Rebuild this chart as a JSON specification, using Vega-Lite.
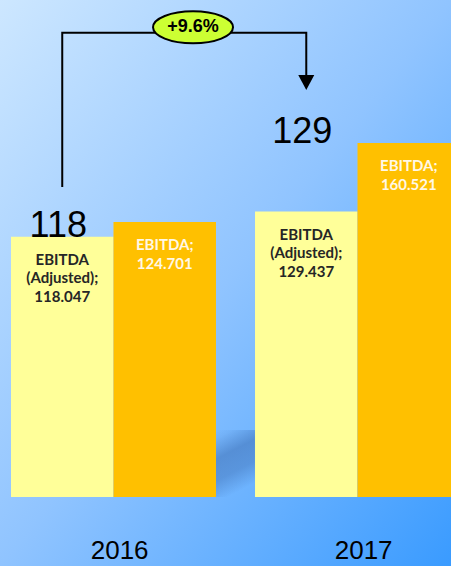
{
  "$schema": "https://vega.github.io/schema/vega-lite/v6.json",
  "width": 451,
  "height": 566,
  "padding": 0,
  "autosize": "none",
  "config": {"view": {"stroke": null}},
  "datasets": {
    "bars": [
      {"year": "2016", "series": "EBITDA (Adjusted)", "value": 118.047, "label": "EBITDA\n(Adjusted);\n118.047"},
      {"year": "2016", "series": "EBITDA", "value": 124.701, "label": "EBITDA;\n124.701"},
      {"year": "2017", "series": "EBITDA (Adjusted)", "value": 129.437, "label": "EBITDA\n(Adjusted);\n129.437"},
      {"year": "2017", "series": "EBITDA", "value": 160.521, "label": "EBITDA;\n160.521"}
    ],
    "big": [
      {"year": "2016", "series": "EBITDA (Adjusted)", "level": 118.047, "big": "118"},
      {"year": "2017", "series": "EBITDA (Adjusted)", "level": 160.521, "big": "129"}
    ],
    "connector": [
      {"year": "2016", "series": "EBITDA (Adjusted)", "level": 140.6, "step": 1},
      {"year": "2016", "series": "EBITDA (Adjusted)", "level": 210.6, "step": 2},
      {"year": "2017", "series": "EBITDA (Adjusted)", "level": 210.6, "step": 3},
      {"year": "2017", "series": "EBITDA (Adjusted)", "level": 190.5, "step": 4}
    ],
    "arrow": [
      {"year": "2017", "series": "EBITDA (Adjusted)", "level": 188.0}
    ],
    "growth": [
      {"year": "2016", "level": 213.0, "txt": "+9.6%"}
    ],
    "shadow": [
      {"year": "2016", "level": 15.2}
    ],
    "years": [
      {"year": "2016"},
      {"year": "2017"}
    ]
  },
  "layer": [
    {
      "data": {"values": [{"k": 1}]},
      "mark": {
        "type": "rect",
        "fill": {
          "gradient": "linear", "x1": 0, "y1": 0, "x2": 1, "y2": 1,
          "stops": [
            {"offset": 0, "color": "#CDE7FF"},
            {"offset": 0.5, "color": "#90C4FF"},
            {"offset": 1, "color": "#3A9BFF"}
          ]
        }
      },
      "encoding": {
        "y": {"datum": -31.3, "type": "quantitative", "scale": {"domain": [-31.3, 225.4], "nice": false, "zero": false}, "axis": null},
        "y2": {"datum": 225.4}
      }
    },
    {
      "data": {"name": "shadow"},
      "mark": {
        "type": "point",
        "shape": "M-0.582,-1L0.582,-1L0.582,1L-0.582,1Z",
        "size": 4489,
        "filled": true,
        "opacity": 1,
        "strokeWidth": 0,
        "fill": {
          "gradient": "linear", "x1": 0, "y1": 0, "x2": 0.3, "y2": 1,
          "stops": [
            {"offset": 0, "color": "rgba(60,110,180,0)"},
            {"offset": 0.12, "color": "rgba(60,110,180,0.1)"},
            {"offset": 0.4, "color": "rgba(60,110,180,0.55)"},
            {"offset": 0.7, "color": "rgba(60,110,180,0.45)"},
            {"offset": 1, "color": "rgba(60,110,180,0)"}
          ]
        }
      },
      "encoding": {
        "x": {"field": "year", "type": "nominal", "bandPosition": 1.095, "axis": null},
        "y": {"field": "level", "type": "quantitative", "axis": null}
      }
    },
    {
      "data": {"name": "bars"},
      "mark": {"type": "bar"},
      "encoding": {
        "x": {"field": "year", "type": "nominal", "scale": {"type": "band", "range": [11, 460], "paddingInner": 0.16, "paddingOuter": 0}, "axis": null},
        "xOffset": {"field": "series", "type": "nominal", "scale": {"domain": ["EBITDA (Adjusted)", "EBITDA"], "paddingInner": 0, "paddingOuter": 0}},
        "y": {"field": "value", "type": "quantitative", "axis": null},
        "y2": {"datum": 0},
        "color": {"field": "series", "type": "nominal", "scale": {"domain": ["EBITDA (Adjusted)", "EBITDA"], "range": ["#FFFF99", "#FFC000"]}, "legend": null}
      }
    },
    {
      "data": {"name": "bars"},
      "mark": {"type": "text", "font": "Lato", "fontWeight": "bold", "fontSize": 15, "lineBreak": "\n", "lineHeight": 18.5, "baseline": "top", "align": "center", "dy": 16},
      "encoding": {
        "x": {"field": "year", "type": "nominal", "axis": null},
        "xOffset": {"field": "series", "type": "nominal"},
        "y": {"field": "value", "type": "quantitative", "axis": null},
        "text": {"field": "label"},
        "color": {"condition": {"test": "datum.series === 'EBITDA'", "value": "#FFF8E6"}, "value": "#262626"}
      }
    },
    {
      "data": {"name": "big"},
      "mark": {"type": "text", "font": "Liberation Sans", "fontSize": 36, "baseline": "alphabetic", "align": "center", "dx": -4, "color": "#000000"},
      "encoding": {
        "x": {"field": "year", "type": "nominal", "axis": null},
        "xOffset": {"field": "series", "type": "nominal"},
        "y": {"field": "level", "type": "quantitative", "axis": null},
        "text": {"field": "big"}
      }
    },
    {
      "data": {"name": "connector"},
      "mark": {"type": "line", "color": "#000000", "strokeWidth": 2},
      "encoding": {
        "x": {"field": "year", "type": "nominal", "axis": null},
        "xOffset": {"field": "series", "type": "nominal"},
        "y": {"field": "level", "type": "quantitative", "axis": null},
        "order": {"field": "step", "type": "quantitative"}
      }
    },
    {
      "data": {"name": "arrow"},
      "mark": {"type": "point", "shape": "M-1,-0.94L1,-0.94L0,0.94Z", "size": 256, "filled": true, "fill": "#000000", "opacity": 1, "strokeWidth": 0},
      "encoding": {
        "x": {"field": "year", "type": "nominal", "axis": null},
        "xOffset": {"field": "series", "type": "nominal"},
        "y": {"field": "level", "type": "quantitative", "axis": null}
      }
    },
    {
      "data": {"name": "growth"},
      "mark": {"type": "point", "shape": "M-1,0A1,0.4 0 1,1 1,0A1,0.4 0 1,1 -1,0Z", "size": 6400, "filled": true, "fill": "#CCFF33", "stroke": "#000000", "strokeWidth": 2, "opacity": 1},
      "encoding": {
        "x": {"field": "year", "type": "nominal", "bandPosition": 0.888, "axis": null},
        "y": {"field": "level", "type": "quantitative", "axis": null}
      }
    },
    {
      "data": {"name": "growth"},
      "mark": {"type": "text", "font": "Liberation Sans", "fontWeight": "bold", "fontSize": 18, "baseline": "middle", "align": "center", "color": "#000000"},
      "encoding": {
        "x": {"field": "year", "type": "nominal", "bandPosition": 0.888, "axis": null},
        "y": {"field": "level", "type": "quantitative", "axis": null},
        "text": {"field": "txt"}
      }
    },
    {
      "data": {"name": "years"},
      "mark": {"type": "text", "font": "Liberation Sans", "fontSize": 26, "baseline": "alphabetic", "align": "center", "color": "#000000"},
      "encoding": {
        "x": {"field": "year", "type": "nominal", "bandPosition": 0.53, "axis": null},
        "y": {"datum": -28.1, "type": "quantitative", "axis": null},
        "text": {"field": "year"}
      }
    }
  ]
}
